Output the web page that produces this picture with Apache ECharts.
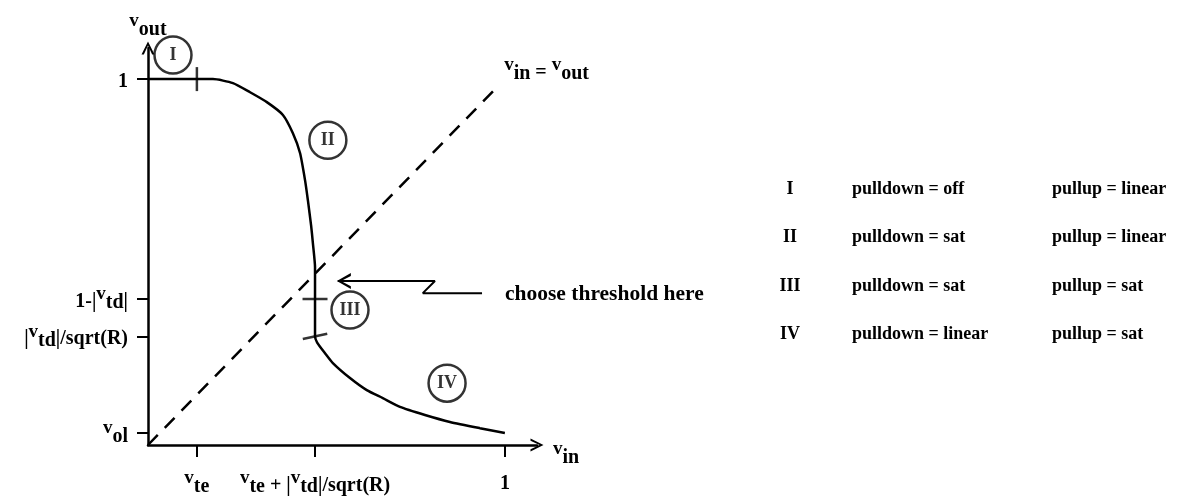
<!DOCTYPE html>
<html>
<head>
<meta charset="utf-8">
<script src="https://cdn.jsdelivr.net/npm/echarts@6/dist/echarts.min.js"></script>
<style>
  html, body { margin: 0; padding: 0; background: #fff; }
  #chart { width: 1197px; height: 502px; }
</style>
</head>
<body>
<div id="chart"></div>
<script>
// key levels (normalised, 0..1)
const vte = 0.137;          // v_te
const vth = 0.468;          // v_te + |v_td|/sqrt(R)
const vol = 0.033;          // v_ol
const vtdR = 0.297;         // |v_td|/sqrt(R)
const oneMinusVtd = 0.399;  // 1-|v_td|

// transfer curve v_out(v_in)
const vin = [0, 0.137, 0.182, 0.238, 0.286, 0.333, 0.378, 0.406, 0.426, 0.44, 0.448, 0.457, 0.462, 0.468, 0.468, 0.468, 0.474, 0.496, 0.518, 0.566, 0.613, 0.658, 0.706, 0.776, 0.846, 0.93, 1.0];
const vout = [1, 1, 1, 0.989, 0.964, 0.937, 0.902, 0.852, 0.798, 0.724, 0.669, 0.6, 0.552, 0.486, 0.399, 0.297, 0.28, 0.251, 0.224, 0.183, 0.15, 0.128, 0.104, 0.082, 0.063, 0.046, 0.033];

// v_in = v_out reference line
const diagIn = [0, 0.97];
const diagOut = [0, 0.97];

// "choose threshold here" pointer path
const pointerX = [0.532, 0.804, 0.77, 0.936];
const pointerY = [0.448, 0.448, 0.415, 0.415];

// region markers
const regionNames = ['I', 'II', 'III', 'IV'];
const regionX = [0.07, 0.504, 0.566, 0.838];
const regionY = [1.066, 0.833, 0.369, 0.169];

// tick labels
const xTicks = [vte, vth, 1];
const xTickLabels = ['{v|v}{s|te}', '{v|v}{s|te}{n| + |}{v|v}{s|td}{n||/sqrt(R)}', '{n|1}'];
const yTicks = [vol, vtdR, oneMinusVtd, 1];
const yTickLabels = ['{v|v}{s|ol}', '{n||}{v|v}{s|td}{n||/sqrt(R)}', '{n|1-|}{v|v}{s|td}{n||}', '{n|1}'];

// table of operating regions
const pulldown = ['pulldown = off', 'pulldown = sat', 'pulldown = sat', 'pulldown = linear'];
const pullup = ['pullup = linear', 'pullup = linear', 'pullup = sat', 'pullup = sat'];

const FONT = '"Liberation Serif", "DejaVu Serif", serif';
const INK = '#000';

const rich = {
  v: { fontFamily: FONT, fontSize: 19, fontWeight: 'bold', color: INK, verticalAlign: 'top' },
  s: { fontFamily: FONT, fontSize: 20, fontWeight: 'bold', color: INK, padding: [8, 0, 0, 0] },
  n: { fontFamily: FONT, fontSize: 20, fontWeight: 'bold', color: INK, padding: [5, 0, 0, 0] }
};

function pickLabel(ticks, labels, val) {
  let i = ticks.findIndex(t => Math.abs(t - val) < 1e-6);
  return i < 0 ? '' : labels[i];
}

const upChevron = 'path://M5,0 L10,10 L8.2,10 L5,3 L1.8,10 L0,10 Z';
const leftChevron = 'path://M0,5 L10,0 L10,1.8 L3,5 L10,8.2 L10,10 Z';

const chart = echarts.init(document.getElementById('chart'));

const table = [];
for (let i = 0; i < regionNames.length; i++) {
  const y = 189 + i * 48.5;
  const st = { fontFamily: FONT, fontSize: 18, fontWeight: 'bold', fill: INK, verticalAlign: 'middle' };
  table.push({ type: 'text', x: 790, y: y, style: Object.assign({ text: regionNames[i], align: 'center' }, st) });
  table.push({ type: 'text', x: 852, y: y, style: Object.assign({ text: pulldown[i], align: 'left' }, st) });
  table.push({ type: 'text', x: 1052, y: y, style: Object.assign({ text: pullup[i], align: 'left' }, st) });
}
table.push({
  type: 'text', x: 505, y: 294,
  style: { text: 'choose threshold here', fontFamily: FONT, fontSize: 21.5, fontWeight: 'bold', fill: INK, align: 'left', verticalAlign: 'middle' }
});

chart.setOption({
  animation: false,
  backgroundColor: '#fff',
  grid: { left: 148, top: 48, width: 389, height: 397, outerBoundsMode: 'none' },
  xAxis: {
    type: 'value', min: 0, max: 1.09,
    name: '{v|v}{s|in}', nameLocation: 'end', nameGap: 16,
    nameTextStyle: { rich: rich, align: 'left', padding: [18, 0, 0, 0] },
    splitLine: { show: false },
    axisLine: { show: true, onZero: false, symbol: ['none', upChevron], symbolSize: [13, 14], lineStyle: { color: INK, width: 2.5 } },
    axisTick: { show: true, customValues: xTicks, length: 12, lineStyle: { color: INK, width: 2 } },
    axisLabel: { customValues: xTicks, margin: 24, formatter: v => pickLabel(xTicks, xTickLabels, v), rich: rich }
  },
  yAxis: {
    type: 'value', min: 0, max: 1.085,
    name: '{v|v}{s|out}', nameLocation: 'end', nameGap: 8,
    nameTextStyle: { rich: rich, align: 'center', verticalAlign: 'bottom' },
    splitLine: { show: false },
    axisLine: { show: true, onZero: false, symbol: ['none', upChevron], symbolSize: [13, 14], lineStyle: { color: INK, width: 2.5 } },
    axisTick: { show: true, customValues: yTicks, length: 11, lineStyle: { color: INK, width: 2 } },
    axisLabel: { customValues: yTicks, margin: 20, formatter: v => pickLabel(yTicks, yTickLabels, v), rich: rich }
  },
  graphic: table,
  series: [
    {
      name: 'vin = vout', type: 'line', showSymbol: false, silent: true,
      data: diagIn.map((x, i) => [x, diagOut[i]]),
      lineStyle: { color: INK, width: 2.5, type: [14, 10] },
      endLabel: {
        show: true, formatter: '{v|v}{s|in}{n| = }{v|v}{s|out}', rich: rich,
        offset: [0, -20], distance: 10
      }
    },
    {
      name: 'transfer', type: 'line', showSymbol: false, silent: true, smooth: 0.2,
      data: vin.map((x, i) => [x, vout[i]]),
      lineStyle: { color: INK, width: 2.5 }
    },
    {
      name: 'pointer', type: 'line', silent: true, symbol: 'none',
      data: pointerX.map((x, i) => i === 0
        ? { value: [x, pointerY[i]], symbol: leftChevron, symbolSize: [14, 16], symbolOffset: [6, 0] }
        : [x, pointerY[i]]),
      showSymbol: true,
      itemStyle: { color: INK },
      lineStyle: { color: INK, width: 2 }
    },
    {
      name: 'curve ticks', type: 'scatter', silent: true,
      data: [
        { value: [vte, 1], symbol: 'rect', symbolSize: [2.5, 24] },
        { value: [vth, oneMinusVtd], symbol: 'rect', symbolSize: [25, 2.5] },
        { value: [vth, vtdR], symbol: 'rect', symbolSize: [25, 2.5], symbolRotate: 12 }
      ],
      itemStyle: { color: INK }
    },
    {
      name: 'regions', type: 'scatter', silent: true,
      symbol: 'circle', symbolSize: 37,
      data: regionX.map((x, i) => ({ value: [x, regionY[i]], name: regionNames[i] })),
      itemStyle: { color: '#fff', borderColor: INK, borderWidth: 2.5 },
      label: { show: true, position: 'inside', formatter: '{b}', fontFamily: FONT, fontSize: 18, fontWeight: 'bold', color: INK }
    }
  ]
});
</script>
</body>
</html>
